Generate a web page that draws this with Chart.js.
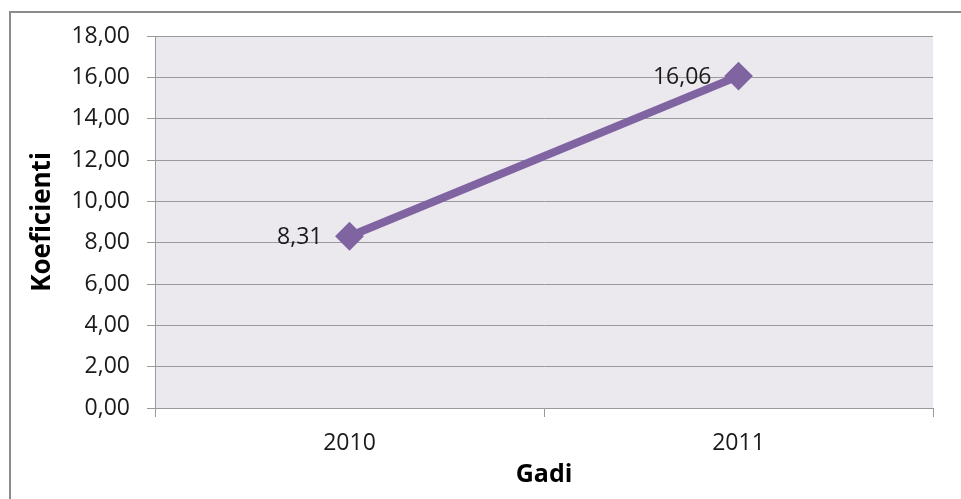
<!DOCTYPE html>
<html lang="lv">
<head>
  <meta charset="UTF-8">
  <title>Koeficienti</title>
  <script src="https://cdn.jsdelivr.net/npm/chart.js"></script>
  <style>
    html, body { margin: 0; padding: 0; background: #fff; }
    canvas { display: block; }
  </style>
</head>
<body>
  <canvas id="chart" width="961" height="499"></canvas>
  <script>
    // chart data
    const years = ['2010', '2011'];
    const koef = [8.31, 16.06];
    const yMin = 0;
    const yMax = 18;
    const yStep = 2;

    const gridGray = '#9a9a9a';
    const lineColor = '#8064a2';
    const fontFam = '"Open Sans", sans-serif';
    const fmt = v => Number(v).toFixed(2).replace('.', ',');

    // gray plot area + outer frame
    const backdrop = {
      id: 'backdrop',
      beforeDraw(chart) {
        const { ctx, chartArea: a } = chart;
        ctx.save();
        ctx.strokeStyle = '#8c8c8c';
        ctx.lineWidth = 2;
        ctx.strokeRect(10, 12, 2000, 2000);
        ctx.fillStyle = '#ebe9ee';
        ctx.fillRect(a.left, a.top, a.right - a.left, a.bottom - a.top);
        ctx.restore();
      }
    };

    // value labels left of the points
    const valueLabels = {
      id: 'valueLabels',
      afterDatasetsDraw(chart) {
        const { ctx } = chart;
        const meta = chart.getDatasetMeta(0);
        ctx.save();
        ctx.font = '23px ' + fontFam;
        ctx.fillStyle = '#1a1a1a';
        ctx.textAlign = 'right';
        ctx.textBaseline = 'middle';
        meta.data.forEach((pt, i) => {
          ctx.fillText(fmt(koef[i]), pt.x - 27, pt.y + 1);
        });
        ctx.restore();
      }
    };

    new Chart(document.getElementById('chart'), {
      type: 'line',
      data: {
        labels: years,
        datasets: [{
          data: koef,
          borderColor: lineColor,
          backgroundColor: lineColor,
          borderWidth: 8,
          pointStyle: 'rectRot',
          pointRadius: 13,
          pointBorderWidth: 2,
          pointBackgroundColor: lineColor,
          pointBorderColor: lineColor,
          tension: 0
        }]
      },
      options: {
        responsive: false,
        animation: false,
        layout: { padding: { left: 0, top: 36, right: 28, bottom: 0 } },
        plugins: {
          legend: { display: false },
          tooltip: { enabled: false }
        },
        scales: {
          x: {
            offset: true,
            afterFit(scale) { scale.height = 91; },
            grid: {
              offset: true,
              drawOnChartArea: false,
              drawTicks: true,
              tickLength: 9,
              color: gridGray
            },
            border: { display: true, color: gridGray },
            ticks: {
              padding: 13,
              color: '#1a1a1a',
              font: { family: fontFam, size: 23 }
            },
            title: {
              display: true,
              text: 'Gadi',
              color: '#000',
              padding: { top: 0, bottom: 9 },
              font: { family: fontFam, size: 25, weight: 'bold' }
            }
          },
          y: {
            min: yMin,
            max: yMax,
            afterFit(scale) { scale.width = 155; },
            grid: {
              color: gridGray,
              tickLength: 8
            },
            border: { display: true, color: gridGray },
            ticks: {
              stepSize: yStep,
              padding: 17,
              color: '#1a1a1a',
              font: { family: fontFam, size: 23 },
              callback: v => fmt(v)
            },
            title: {
              display: true,
              text: 'Koeficienti',
              color: '#000',
              padding: { top: 27, bottom: 0 },
              font: { family: fontFam, size: 26, weight: 'bold' }
            }
          }
        }
      },
      plugins: [backdrop, valueLabels]
    });
  </script>
</body>
</html>
